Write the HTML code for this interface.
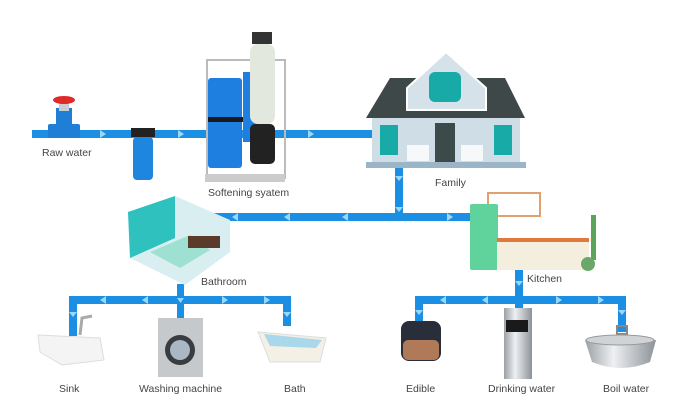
<!DOCTYPE html>
<html><head><meta charset="utf-8"><style>
html,body{margin:0;padding:0;background:#fff;}
svg{display:block;}
text{font-family:"Liberation Sans",sans-serif;font-size:10.5px;fill:#444;}
</style></head><body>
<svg width="700" height="408" viewBox="0 0 700 408" xmlns="http://www.w3.org/2000/svg">
<defs>
<linearGradient id="steel" x1="0" x2="1"><stop offset="0" stop-color="#9aa0a6"/><stop offset=".4" stop-color="#eef0f2"/><stop offset="1" stop-color="#8c9298"/></linearGradient>
</defs>
<g fill="#1a8fe3">
<!-- main pipe -->
<rect x="32" y="130" width="342" height="8"/>
<!-- drop from house -->
<rect x="395" y="166" width="8" height="54"/>
<rect x="212" y="213" width="260" height="8"/>
<!-- bathroom branch -->
<rect x="177" y="284" width="7" height="16"/>
<rect x="69" y="296" width="222" height="8"/>
<rect x="69" y="296" width="8" height="40"/>
<rect x="177" y="296" width="7" height="24"/>
<rect x="283" y="296" width="8" height="30"/>
<!-- kitchen branch -->
<rect x="515" y="270" width="8" height="30"/>
<rect x="415" y="296" width="211" height="8"/>
<rect x="415" y="296" width="8" height="30"/>
<rect x="515" y="296" width="8" height="14"/>
<rect x="618" y="296" width="8" height="36"/>
</g>
<g fill="#9dd6f7">
<path d="M100 130l6 4-6 4z"/><path d="M178 130l6 4-6 4z"/><path d="M308 130l6 4-6 4z"/>
<path d="M395 176l4 5 4-5z"/><path d="M395 207l4 5 4-5z"/>
<path d="M238 213l-6 4 6 4z"/><path d="M290 213l-6 4 6 4z"/><path d="M348 213l-6 4 6 4z"/><path d="M447 213l6 4-6 4z"/>
<path d="M106 296l-6 4 6 4z"/><path d="M148 296l-6 4 6 4z"/><path d="M222 296l6 4-6 4z"/><path d="M264 296l6 4-6 4z"/>
<path d="M177 298l3.5 5 3.5-5z"/><path d="M69 312l4 5 4-5z"/><path d="M283 312l4 5 4-5z"/>
<path d="M446 296l-6 4 6 4z"/><path d="M488 296l-6 4 6 4z"/><path d="M556 296l6 4-6 4z"/><path d="M598 296l6 4-6 4z"/>
<path d="M515 281l4 5 4-5z"/><path d="M415 310l4 5 4-5z"/><path d="M618 310l4 5 4-5z"/>
</g>
<!-- valve -->
<rect x="48" y="124" width="32" height="14" rx="2" fill="#1f7fd6"/>
<rect x="56" y="108" width="16" height="18" fill="#1f7fd6"/>
<rect x="59" y="103" width="10" height="8" fill="#c8ced4"/>
<ellipse cx="64" cy="100" rx="11" ry="4" fill="#e02a2a"/>
<!-- filter -->
<rect x="131" y="128" width="24" height="9" fill="#222"/>
<rect x="133" y="137" width="20" height="43" rx="4" fill="#1f86e0"/>
<!-- softener -->
<rect x="207" y="60" width="78" height="118" fill="none" stroke="#bbb" stroke-width="2"/>
<rect x="208" y="78" width="34" height="90" rx="3" fill="#1e7fe0"/>
<rect x="208" y="117" width="35" height="5" fill="#1a1a1a"/>
<rect x="243" y="72" width="14" height="70" fill="#1e7fe0"/>
<rect x="250" y="44" width="25" height="80" rx="8" fill="#e3e8df"/>
<rect x="250" y="124" width="25" height="40" rx="5" fill="#222"/>
<rect x="252" y="32" width="20" height="12" fill="#333"/>
<rect x="205" y="174" width="80" height="8" fill="#ccc"/>
<!-- house -->
<path d="M366 118 L390 78 L505 78 L525 118Z" fill="#3e4849"/>
<path d="M407 88 L446 52 L486 88 L486 110 L407 110Z" fill="#d5e2ea" stroke="#fff" stroke-width="2"/>
<rect x="429" y="72" width="32" height="30" rx="6" fill="#17aaa6"/>
<rect x="372" y="118" width="148" height="44" fill="#cfdde6"/>
<rect x="380" y="125" width="18" height="30" fill="#17aaa6"/>
<rect x="494" y="125" width="18" height="30" fill="#17aaa6"/>
<rect x="435" y="123" width="20" height="39" fill="#3c4a4a"/>
<rect x="407" y="145" width="22" height="16" fill="#fff" opacity=".8"/>
<rect x="461" y="145" width="22" height="16" fill="#fff" opacity=".8"/>
<rect x="366" y="162" width="160" height="6" fill="#9ab4c8"/>
<!-- bathroom -->
<path d="M128 212 L175 196 L230 220 L230 252 L185 285 L130 258Z" fill="#d9eef0"/>
<path d="M128 212 L175 196 L175 238 L130 258Z" fill="#2ec1be"/>
<path d="M150 252 L190 235 L210 250 L180 268Z" fill="#9ee0d2"/>
<rect x="188" y="236" width="32" height="12" fill="#5b3a2a"/>
<!-- kitchen -->
<rect x="488" y="193" width="52" height="23" fill="none" stroke="#e0a070" stroke-width="2"/>
<rect x="470" y="204" width="28" height="66" rx="2" fill="#5fd39b"/>
<rect x="497" y="240" width="92" height="30" fill="#f3eedd"/>
<rect x="497" y="238" width="92" height="4" fill="#e07a3a"/>
<rect x="591" y="215" width="5" height="45" fill="#5aa55a"/>
<circle cx="588" cy="264" r="7" fill="#6aa86a"/>
<!-- sink -->
<path d="M38 335 L100 338 L104 360 L62 365 L40 352Z" fill="#f4f4f4" stroke="#ddd"/>
<path d="M80 335 L82 318 L92 316" stroke="#aaa" stroke-width="3" fill="none"/>
<!-- washing machine -->
<rect x="158" y="318" width="45" height="59" fill="#c6c9cc"/>
<circle cx="180" cy="350" r="15" fill="#3a3d40"/><circle cx="180" cy="350" r="10" fill="#a9b8c4"/>
<!-- bath -->
<path d="M258 332 L326 338 L320 362 L270 362Z" fill="#f5f0e6" stroke="#ddd"/>
<path d="M264 334 L322 340 L316 348 L270 346Z" fill="#a8d8ea"/>
<!-- cooker -->
<rect x="401" y="321" width="40" height="40" rx="8" fill="#2a2e3a"/>
<rect x="403" y="340" width="36" height="20" rx="5" fill="#b07a58"/>
<!-- dispenser -->
<rect x="504" y="308" width="28" height="71" fill="url(#steel)"/>
<rect x="506" y="320" width="22" height="12" fill="#1a1a1a"/>
<!-- pot -->
<rect x="617" y="326" width="10" height="8" fill="none" stroke="#888" stroke-width="2"/>
<path d="M585 340 L656 340 L650 362 Q621 374 592 362Z" fill="url(#steel)"/>
<ellipse cx="620" cy="340" rx="34" ry="5" fill="#cfd3d6" stroke="#999"/>
<!-- labels -->
<text x="42" y="156">Raw water</text>
<text x="208" y="196">Softening syatem</text>
<text x="435" y="186">Family</text>
<text x="201" y="285">Bathroom</text>
<text x="527" y="282">Kitchen</text>
<text x="59" y="392">Sink</text>
<text x="139" y="392">Washing machine</text>
<text x="284" y="392">Bath</text>
<text x="406" y="392">Edible</text>
<text x="488" y="392">Drinking water</text>
<text x="603" y="392">Boil water</text>
</svg>
</body></html>
